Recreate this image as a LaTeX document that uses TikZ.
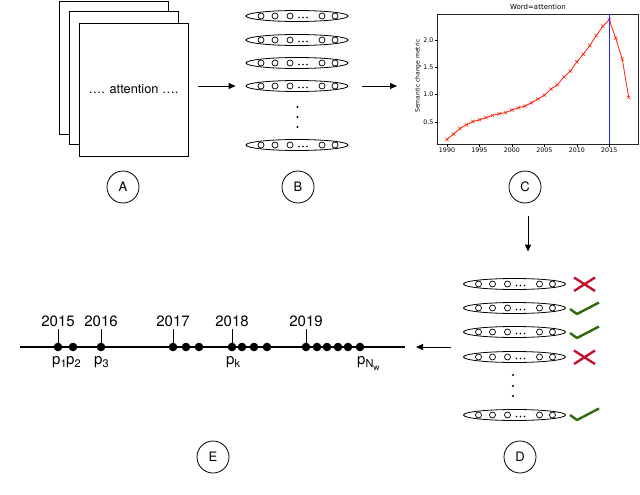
\documentclass[tikz,border=0pt]{standalone}
\usepackage{fontspec}
\setmainfont{TeX Gyre Heros}
\newfontfamily\plotfont{DejaVu Sans}
\usetikzlibrary{arrows.meta,shapes.geometric}
\definecolor{crossred}{HTML}{C0142E}
\definecolor{checkgreen}{HTML}{2E6B10}
\definecolor{vlineblue}{rgb}{0.15,0.15,1}
\definecolor{plotred}{HTML}{FF2010}
\newcommand{\mysub}[1]{\raisebox{-3.5pt}{\fontsize{11}{11}\selectfont #1}}
\newcommand{\mysubsub}[1]{\raisebox{-3pt}{\fontsize{8.5}{9}\selectfont #1}}
\begin{document}
\begin{tikzpicture}[x=1pt,y=-1pt,
  page/.style={draw,line width=0.9pt,fill=white,inner sep=0,minimum width=109pt,minimum height=133pt,font=\fontsize{12.8}{14}\selectfont},
  lab/.style={draw,circle,line width=0.8pt,minimum size=32pt,inner sep=0,font=\fontsize{13}{15}\selectfont},
  vecell/.style={draw,ellipse,line width=0.8pt,minimum width=102pt,minimum height=11pt,inner sep=0},
  arr/.style={line width=0.9pt,-{Triangle[length=7pt,width=6pt]}},
  tdot/.style={circle,fill=black,inner sep=0,minimum size=8.6pt},
  yearlab/.style={anchor=base,inner sep=0,font=\fontsize{15}{17}\selectfont},
  plab/.style={anchor=base west,inner sep=0,font=\fontsize{15}{17}\selectfont},
  ticklab/.style={inner sep=0,font=\plotfont\fontsize{6.3}{7}\selectfont},
  vecrow/.pic={
    \node[vecell] (-e) at (0,0) {};
    \foreach \dx in {-36,-22,-7,25,38} \draw[line width=0.7pt] (\dx,0) circle[radius=3];
    \foreach \dx in {2,6,10} \fill (\dx,1.5) circle[radius=0.8];
  },
  crossmark/.pic={
    \draw[crossred,line width=2.4pt] (-10.5,-6.5) -- (10.5,7) (-10.5,7) -- (10.5,-6.5);
  },
  checkmark/.pic={
    \draw[checkgreen,line width=2.4pt,line join=round] (-14.5,1) -- (-7.5,6) -- (14.5,-5.5);
  }
]
\useasboundingbox (0,0) rectangle (640,495);

% ---- A: documents
\node[page] (pageA) at (113.5,68) {};
\node[page] (pageB) at (123.5,77.5) {};
\node[page] (pageC) at (133.5,89.5) {…. attention ….};

% ---- B: vectors
\pic (rowB1) at (297,16) {vecrow};
\pic (rowB2) at (297,40) {vecrow};
\pic (rowB3) at (297,63) {vecrow};
\pic (rowB4) at (297,86) {vecrow};
\pic (rowB5) at (297,145) {vecrow};
\foreach \yy in {107,117,127} \fill (297.5,\yy) circle[radius=1.1];

% ---- C: plot
\coordinate (plotL) at (437,86);
\begin{scope}[shift={(447,149.33)},x=6.49pt,y=54.67pt]
  \draw[plotred,line width=0.8pt,mark=x,mark size=2.4pt,mark options={line width=0.5pt}] plot coordinates {
    (0,0.18) (1,0.28) (2,0.38) (3,0.45) (4,0.51) (5,0.54) (6,0.58) (7,0.62) (8,0.65) (9,0.67)
    (10,0.72) (11,0.76) (12,0.79) (13,0.85) (14,0.92) (15,0.99) (16,1.10) (17,1.18) (18,1.32)
    (19,1.43) (20,1.60) (21,1.74) (22,1.90) (23,2.08) (24,2.25) (25,2.37) (26,2.03) (27,1.65) (28,0.95)};
  \draw[line width=0.6pt,black!85] (-1.54,0.0975) rectangle (29.43,2.475);
  \foreach \t/\yr in {0/1990,5/1995,10/2000,15/2005,20/2010,25/2015} {
    \draw[line width=0.5pt] (\t,0.0975) -- ++(0pt,-2.5pt);
    \node[ticklab,anchor=north,yshift=-3.5pt] at (\t,0.0975) {\yr};
  }
  \foreach \v in {0.5,1.0,1.5,2.0} {
    \draw[line width=0.5pt] (-1.54,\v) -- ++(-2.5pt,0pt);
    \node[ticklab,anchor=east,xshift=-3.5pt] at (-1.54,\v) {\v};
  }
\end{scope}
\coordinate (vtop) at (609.3,14.3);
\coordinate (vbot) at (609.3,143.7);
\draw[draw=vlineblue,line width=1.5pt] (vtop) -- (vbot);
\node[inner sep=0,font=\plotfont\fontsize{7}{8}\selectfont] (ptitle) at (538,7) {Word=attention};
\node[inner sep=0,rotate=90,font=\plotfont\fontsize{6}{7}\selectfont] (pylab) at (418,76) {Semantic change metric};

% ---- D: filtered vectors
\pic (rowD1) at (514.5,284) {vecrow};
\pic (rowD2) at (514.5,308) {vecrow};
\pic (rowD3) at (514.5,332) {vecrow};
\pic (rowD4) at (514.5,357) {vecrow};
\pic (rowD5) at (514.5,415) {vecrow};
\foreach \yy in {375,386,396} \fill (513,\yy) circle[radius=1.1];
\pic at (584.5,284) {crossmark};
\pic at (584.5,308) {checkmark};
\pic at (584.5,332) {checkmark};
\pic at (584.5,357) {crossmark};
\pic at (584.5,414) {checkmark};

% ---- E: timeline
\coordinate (tlL) at (20,347);
\coordinate (tlR) at (405,347);
\draw[line width=1.3pt] (tlL) -- (tlR);
\foreach \n/\xx in {d1/58,d2/73,d3/101,d4/173,d5/186,d6/199,d7/232,d8/242,d9/254,d10/267,d11/306,d12/317,d13/327,d14/338,d15/348,d16/360}
  \node[tdot] (\n) at (\xx,347) {};
\foreach \n/\yr in {d1/2015,d3/2016,d4/2017,d7/2018,d11/2019} {
  \draw[line width=0.9pt] (\n.center) -- ++(0pt,18pt);
  \node[yearlab] at ([yshift=21pt]\n.center) {\yr};
}
\node[plab] (lp1) at (52,364) {p\mysub{1}};
\node[plab] (lp2) at (66,364) {p\mysub{2}};
\node[plab] (lp3) at (94,364) {p\mysub{3}};
\node[plab] (lpk) at (226,364) {p\mysub{k}};
\node[plab] (lpn) at (357,364) {p\mysub{N\mysubsub{w}}};

% ---- labels
\node[lab] (labA) at (123,187) {A};
\node[lab] (labB) at (298,187) {B};
\node[lab] (labC) at (525,187) {C};
\node[lab] (labD) at (520,457) {D};
\node[lab] (labE) at (213,457) {E};

% ---- arrows
\draw[arr] ([xshift=10pt]pageC.east |- rowB4-e.west) -- ([xshift=-10pt]rowB4-e.west);
\draw[arr] ([xshift=14pt]rowB4-e.east) -- ([xshift=-40pt]plotL);
\draw[arr] ([xshift=3pt,yshift=-13pt]labC.south) -- ([xshift=13.5pt,yshift=26.5pt]rowD1-e.north);
\draw[arr] ([xshift=-12pt]rowD4-e.west |- tlR) -- ([xshift=11pt]tlR);
\end{tikzpicture}
\end{document}
